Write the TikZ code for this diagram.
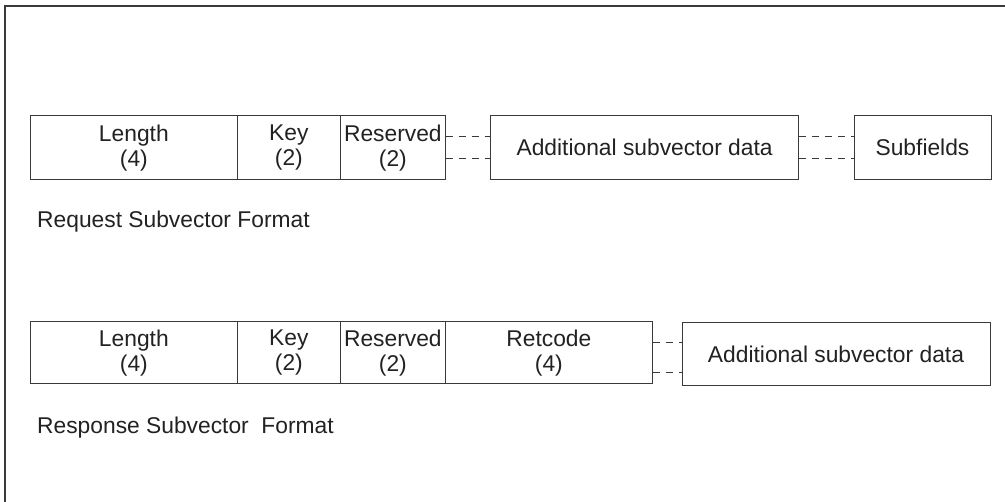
\documentclass[tikz,border=0pt]{standalone}
\usepackage{fontspec}
\setmainfont{Liberation Sans}
\usetikzlibrary{calc}
\definecolor{ln}{HTML}{3A3A3A}
\definecolor{tx}{HTML}{222222}
\tikzset{
  field/.style={draw=ln, line width=1pt, rectangle, inner sep=0pt, align=center,
     text=tx, font=\fontsize{22.8pt}{25pt}\selectfont},
  dl/.style={draw=ln, line width=1pt, dash pattern=on 7pt off 6pt},
  caption/.style={anchor=west, inner sep=0pt, text=tx, font=\fontsize{22.8pt}{25pt}\selectfont},
}
\begin{document}
\begin{tikzpicture}[x=1pt,y=-1pt]
\useasboundingbox (0,0) rectangle (1005,502);
\fill[white] (0,0) rectangle (1005,502);
% outer frame (only top and left visible)
\draw[ln, line width=1.8pt] (5,510) -- (5,6) -- (1010,6);

% Request row
\node[field, minimum width=206.3pt, minimum height=63.5pt] (len1) at (133.85,147.75) {Length\\(4)};
\node[field, minimum width=103.7pt, minimum height=63.5pt] (key1) at (288.85,147.75) {Key\\(2)};
\node[field, minimum width=104.3pt, minimum height=63.5pt] (res1) at (392.85,147.75) {Reserved\\(2)};
\node[field, minimum width=307.8pt, minimum height=63.5pt] (add1) at (644.6,147.75) {Additional subvector data};
\node[field, minimum width=137pt, minimum height=63.5pt] (sub1) at (922.5,147.75) {Subfields};
\draw[dl] ($(res1.east)+(0,-10.75)$) -- ($(add1.west)+(0,-10.75)$);
\draw[dl] ($(res1.east)+(0,11.25)$) -- ($(add1.west)+(0,11.25)$);
\draw[dl] ($(add1.east)+(0,-10.75)$) -- ($(sub1.west)+(0,-10.75)$);
\draw[dl] ($(add1.east)+(0,11.25)$) -- ($(sub1.west)+(0,11.25)$);
\node[caption] (cap1) at (37,222) {Request Subvector Format};

% Response row
\node[field, minimum width=206.3pt, minimum height=62pt] (len2) at (133.85,353) {Length\\(4)};
\node[field, minimum width=103.7pt, minimum height=62pt] (key2) at (288.85,353) {Key\\(2)};
\node[field, minimum width=104.3pt, minimum height=62pt] (res2) at (392.85,353) {Reserved\\(2)};
\node[field, minimum width=207.7pt, minimum height=62pt] (ret2) at (548.85,353) {Retcode\\(4)};
\node[field, minimum width=308pt, minimum height=63.3pt] (add2) at (836,354.3) {Additional subvector data};
\draw[dl] ($(ret2.east)+(0,-10)$) -- ($(add2.west)+(0,-11.3)$);
\draw[dl] ($(ret2.east)+(0,20)$) -- ($(add2.west)+(0,18.7)$);
\node[caption] (cap2) at (37,428) {Response Subvector\ \ Format};
\end{tikzpicture}
\end{document}
